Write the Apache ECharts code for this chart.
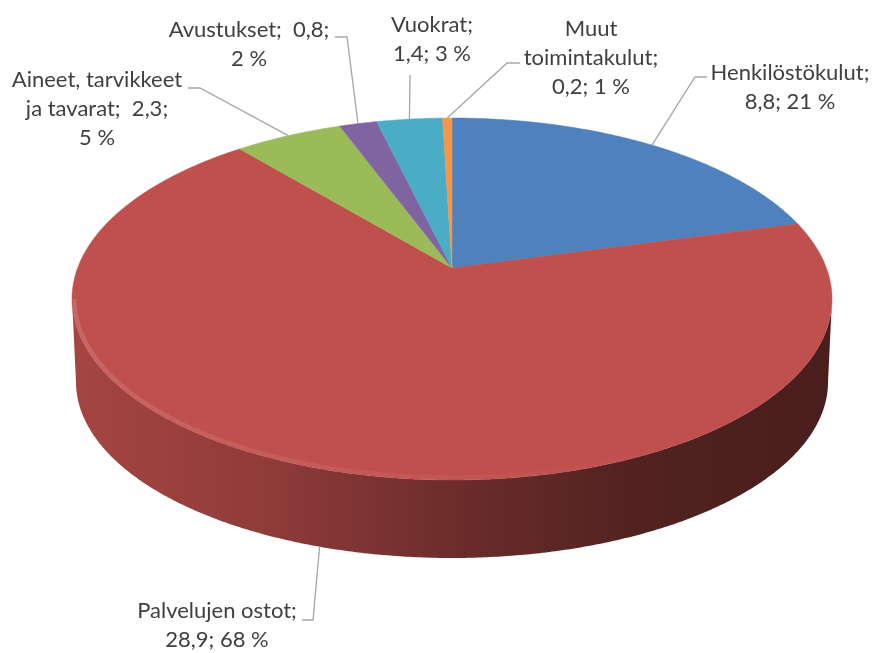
<!DOCTYPE html>
<html><head><meta charset="utf-8">
<script src="https://cdn.jsdelivr.net/npm/echarts/dist/echarts.min.js"></script>
<style>html,body{margin:0;padding:0;background:#fff}#c{width:874px;height:653px}</style>
</head><body><div id="c"></div>
<script>
// ---- data ----
const categories = ['Henkilöstökulut', 'Palvelujen ostot', 'Aineet, tarvikkeet ja tavarat', 'Avustukset', 'Vuokrat', 'Muut toimintakulut'];
const values = [8.8, 28.9, 2.3, 0.8, 1.4, 0.2];
const percents = [21, 68, 5, 2, 3, 1];

// ---- styles / layout ----
const colors = ['#4F81BD', '#C0504D', '#9BBB59', '#8064A2', '#4BACC6', '#F79646'];
const G = { cx: 452, cy: 299, rx: 380, ry: 181, bcy: 382, brx: 376, bry: 176, v: 0.171 };
const FONT = { family: 'Lato, "Open Sans", sans-serif', size: 22, lh: 29, color: '#404040' };
const labelLayout = [
  { tpl: '{n};\n{v}; {p} %', nameBreak: 0, x: 790, y: 73, leader: [[707, 77], [695, 77]] },
  { tpl: '{n};\n{v}; {p} %', nameBreak: 0, x: 217, y: 611, leader: [[302, 620], [313, 620]] },
  { tpl: '{n};  {v};\n{p} %', nameBreak: 2, x: 97, y: 80, leader: [[188, 88], [200, 88]] },
  { tpl: '{n};  {v};\n{p} %', nameBreak: 0, x: 249, y: 30, leader: [[335, 37], [347, 37]] },
  { tpl: '{n};\n{v}; {p} %', nameBreak: 0, x: 432, y: 25, leader: [[410, 75]] },
  { tpl: '{n};\n{v}; {p} %', nameBreak: 1, x: 591, y: 29, leader: [[520, 63], [507, 63]] }
];

const total = values.reduce((a, b) => a + b, 0);
const TAU = Math.PI * 2;
function tOf(theta) {
  const c = Math.cos(theta), s = Math.sin(theta), d = 1 + G.v * c;
  const base = Math.atan2(Math.sqrt(1 - G.v * G.v) * s / d, (c + G.v) / d);
  return base + TAU * Math.round((theta - base) / TAU);
}
function topPt(t, inset) { inset = inset || 0; return [G.cx + (G.rx - inset) * Math.sin(t), G.cy - (G.ry - inset) * Math.cos(t)]; }
function botPt(t) { return [G.cx + G.brx * Math.sin(t), G.bcy - G.bry * Math.cos(t)]; }
function hexRgb(h) { const n = parseInt(h.slice(1), 16); return [(n >> 16) & 255, (n >> 8) & 255, n & 255]; }
function shade(h, f) { const c = hexRgb(h).map(x => Math.round(x * f)); return 'rgb(' + c.join(',') + ')'; }
function lighten(h, f, a) { const c = hexRgb(h).map(x => Math.round(x + (255 - x) * f)); return 'rgba(' + c.join(',') + ',' + a + ')'; }
function fmt(v) { return v.toFixed(1).replace('.', ','); }

const cum = [];
values.reduce((acc, v, i) => { cum[i] = acc; return acc + v; }, 0);

function renderItem(params, api) {
  const i = params.dataIndex;
  const val = api.value(0);
  const th0 = cum[i] / total * TAU, th1 = (cum[i] + val) / total * TAU;
  const col = colors[i];
  const children = [];
  // top face
  const apex = [G.cx, G.cy - G.v * G.ry];
  const pts = [apex];
  const n = Math.max(2, Math.ceil((th1 - th0) / (Math.PI / 360)));
  for (let k = 0; k <= n; k++) pts.push(topPt(tOf(th0 + (th1 - th0) * k / n)));
  children.push({ type: 'polygon', z2: 10, shape: { points: pts }, style: { fill: col, stroke: col, lineWidth: 0.5 } });
  // side
  const t0 = tOf(th0), t1 = tOf(th1);
  const s = Math.max(t0, Math.PI / 2), e = Math.min(t1, Math.PI * 1.5);
  if (s < e) {
    const sp = [], hp = [];
    const m = Math.ceil((e - s) / (Math.PI / 360));
    for (let k = 0; k <= m; k++) { const t = s + (e - s) * k / m; sp.push(topPt(t)); hp.push(topPt(t, 2.5)); }
    for (let k = m; k >= 0; k--) sp.push(botPt(s + (e - s) * k / m));
    children.push({ type: 'polygon', z2: 2, shape: { points: sp }, style: {
      fill: { type: 'linear', x: G.cx - G.rx, y: 0, x2: G.cx + G.rx, y2: 0, global: true,
        colorStops: [{ offset: 0, color: shade(col, 0.86) }, { offset: 0.25, color: shade(col, 0.75) }, { offset: 0.5, color: shade(col, 0.56) }, { offset: 0.75, color: shade(col, 0.42) }, { offset: 1, color: shade(col, 0.38) }] } } });
    children.push({ type: 'polyline', z2: 11, shape: { points: hp }, style: { fill: null, lineWidth: 4,
      stroke: { type: 'linear', x: G.cx - G.rx, y: 0, x2: G.cx + G.rx, y2: 0, global: true,
        colorStops: [{ offset: 0, color: lighten(col, 0.14, 0.9) }, { offset: 0.45, color: lighten(col, 0.1, 0.45) }, { offset: 0.8, color: lighten(col, 0.05, 0) }, { offset: 1, color: lighten(col, 0.05, 0) }] } } });
  }
  // label + leader
  const L = labelLayout[i];
  const tm = tOf((th0 + th1) / 2);
  const tn = ((tm % TAU) + TAU) % TAU;
  const anchor = (tn > Math.PI / 2 && tn < Math.PI * 1.5) ? botPt(tm) : topPt(tm);
  children.push({ type: 'polyline', z2: 20, shape: { points: L.leader.concat([anchor]) }, style: { fill: null, stroke: '#A6A6A6', lineWidth: 1.3 } });
  let name = categories[i];
  if (L.nameBreak) { const w = name.split(' '); name = w.slice(0, L.nameBreak).join(' ') + '\n' + w.slice(L.nameBreak).join(' '); }
  const text = L.tpl.replace('{n}', name).replace('{v}', fmt(val)).replace('{p}', percents[i]);
  children.push({ type: 'text', z2: 21, x: L.x, y: L.y - FONT.lh / 2, style: {
    text: text, align: 'center', verticalAlign: 'top', lineHeight: FONT.lh,
    fontSize: FONT.size, fontFamily: FONT.family, fill: FONT.color } });
  return { type: 'group', children: children };
}

const chart = echarts.init(document.getElementById('c'), null, { renderer: 'canvas' });
chart.setOption({
  animation: false,
  backgroundColor: '#ffffff',
  series: [{ type: 'custom', coordinateSystem: 'none', renderItem: renderItem, data: values.map((v, i) => ({ name: categories[i], value: v })) }]
});
</script></body></html>
